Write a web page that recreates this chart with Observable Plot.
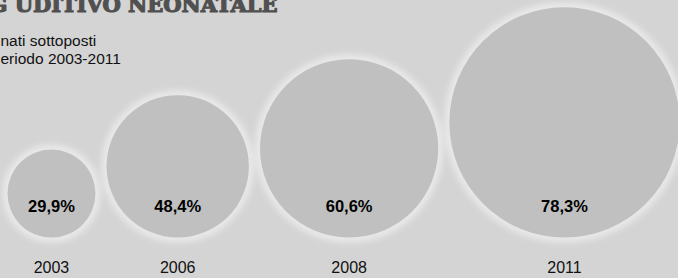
<!DOCTYPE html>
<html>
<head>
<meta charset="utf-8">
<script src="https://cdn.jsdelivr.net/npm/d3@7"></script>
<script src="https://cdn.jsdelivr.net/npm/@observablehq/plot@0.6"></script>
<style>
  html, body { margin: 0; padding: 0; background: #d4d4d4; overflow: hidden; }
  #chart { width: 678px; height: 278px; position: relative; }
</style>
</head>
<body>
<div id="chart"></div>
<script>
// ---- data ----
const years = ["2003", "2006", "2008", "2011"];
const values = [29.9, 48.4, 60.6, 78.3];
const valueLabels = ["29,9%", "48,4%", "60,6%", "78,3%"];
const titleText = "G UDITIVO NEONATALE";
const subtitleLines = ["nati sottoposti", "eriodo 2003-2011"];

// ---- layout (circles packed side by side, radius proportional to value) ----
const W = 678, H = 278;
const K = 1.47;          // pixels per percentage point
const GAP = 7.6;         // gap between circles, in value units
const LEFT = 7;          // left padding in px
const BASE = 237;        // baseline (bottom of circles) in px

let acc = 0;
const data = years.map((year, i) => {
  const v = values[i];
  const cx = acc + v;
  acc += 2 * v + GAP;
  return {year, value: v, label: valueLabels[i], cx, cy: v};
});

const chart = Plot.plot({
  width: W,
  height: H,
  margin: 0,
  style: {background: "#d4d4d4", overflow: "visible"},
  x: {axis: null, domain: [-LEFT / K, (W - LEFT) / K], range: [0, W]},
  y: {axis: null, domain: [-(H - BASE) / K, BASE / K], range: [H, 0]},
  r: {type: "linear", domain: [0, 100], range: [0, 100 * K]},
  marks: [
    // soft light halo (blurred below)
    Plot.dot(data, {x: "cx", y: "cy", r: "value", fill: "none", stroke: "#f2f2f2", strokeWidth: 10, strokeOpacity: 0.7}),
    Plot.dot(data, {x: "cx", y: "cy", r: "value", fill: "#c0c0c0", stroke: "none"}),
    Plot.text(data, {
      x: "cx", text: "label", frameAnchor: "bottom", lineAnchor: "bottom", dy: -67,
      fontFamily: "Liberation Sans, Arial, sans-serif", fontWeight: "bold", fontSize: 16.5, fill: "#000"
    }),
    Plot.text(data, {
      x: "cx", text: "year", frameAnchor: "bottom", lineAnchor: "bottom", dy: -6,
      fontFamily: "Liberation Sans, Arial, sans-serif", fontSize: 16, fill: "#111"
    }),
    Plot.text([titleText], {
      text: d => d, frameAnchor: "top-left", textAnchor: "end", lineAnchor: "bottom", dx: 277, dy: 11,
      fontFamily: "DejaVu Serif, serif", fontWeight: "bold", fontSize: 21, fill: "#505050",
      stroke: "#505050", strokeWidth: 1.2
    }),
    Plot.text([subtitleLines.join("\n")], {
      text: d => d, frameAnchor: "top-left", textAnchor: "start", lineAnchor: "top", dx: 0, dy: 32,
      lineHeight: 1.18, fontFamily: "Liberation Sans, Arial, sans-serif", fontSize: 15.5, fill: "#111"
    })
  ]
});

// blur the halo ring so it reads as a soft glow
const svg = d3.select(chart.tagName.toLowerCase() === "svg" ? chart : chart.querySelector("svg"));
svg.insert("defs", ":first-child")
  .append("filter").attr("id", "halo-blur").attr("x", "-20%").attr("y", "-20%").attr("width", "140%").attr("height", "140%")
  .append("feGaussianBlur").attr("stdDeviation", 3);
const dotGroups = chart.querySelectorAll('g[aria-label="dot"]');
if (dotGroups.length) dotGroups[0].setAttribute("filter", "url(#halo-blur)");

document.getElementById("chart").appendChild(chart);
</script>
</body>
</html>
